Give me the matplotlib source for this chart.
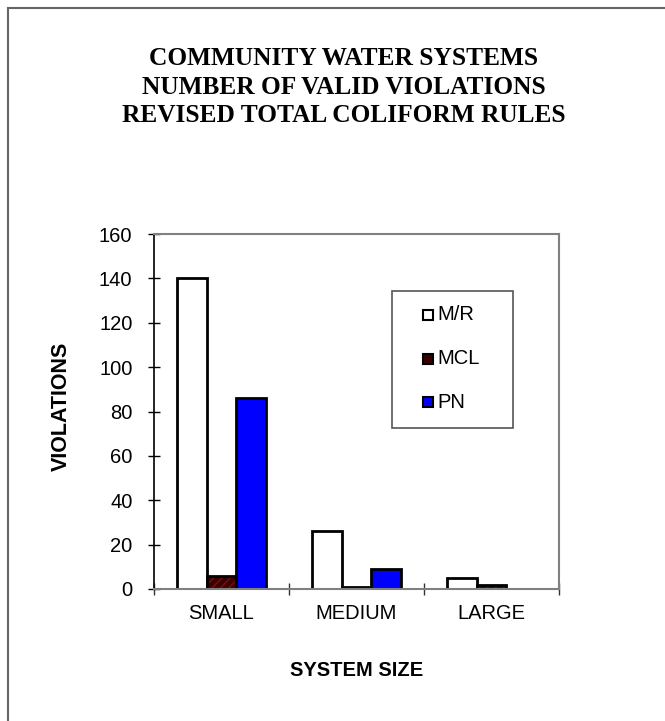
import matplotlib
matplotlib.use("Agg")
import matplotlib.pyplot as plt
import numpy as np
from matplotlib.patches import Rectangle
from matplotlib.lines import Line2D

categories = ["SMALL", "MEDIUM", "LARGE"]
series = ["M/R", "MCL", "PN"]
mr = [140, 26, 5]
mcl = [6, 1, 2]
pn = [86, 9, 0]
yticks = [0, 20, 40, 60, 80, 100, 120, 140, 160]
colors = ["white", "#3a0000", "#0000ff"]

W, H = 665, 721
fig = plt.figure(figsize=(W / 100, H / 100), dpi=100)


def fx(px):
    return px / W


def fy(py):
    return 1 - py / H


# outer frame (left & top visible)
fig.add_artist(Line2D([fx(8), fx(8)], [0, fy(8)], color="#666666", lw=1.5,
                      transform=fig.transFigure))
fig.add_artist(Line2D([fx(8), 1], [fy(8), fy(8)], color="#666666", lw=1.5,
                      transform=fig.transFigure))

ax_l, ax_r, ax_t, ax_b = 154, 559, 234, 589
ax = fig.add_axes([fx(ax_l), fy(ax_b), (ax_r - ax_l) / W, (ax_b - ax_t) / H])

n = len(categories)
x = np.arange(n)
bw = 0.222
offs = [-bw, 0, bw]

ax.bar(x + offs[0], mr, bw, color=colors[0], edgecolor="black", lw=2)
ax.bar(x + offs[1], mcl, bw, color=colors[1], edgecolor="#7a1010", lw=0, hatch="////")
ax.bar(x + offs[1], mcl, bw, color="none", edgecolor="black", lw=2)
ax.bar(x + offs[2], pn, bw, color=colors[2], edgecolor="black", lw=2)

ax.set_xlim(-0.5, n - 0.5)
ax.set_ylim(0, 160)
ax.set_yticks(yticks)
ax.set_yticklabels([str(v) for v in yticks], fontfamily="Liberation Sans", fontsize=14.5)
ax.set_xticks([-0.5, 0.5, 1.5, 2.5])
ax.set_xticklabels([])
ax.tick_params(axis="x", direction="inout", length=9, width=1, colors="#333333")
ax.tick_params(axis="y", direction="inout", length=9, width=1, colors="black", pad=11)
for i, c in enumerate(categories):
    ax.text(i, -11, c, ha="center", va="center", fontfamily="Liberation Sans", fontsize=14.5)

ax.spines["left"].set_color("black")
ax.spines["left"].set_linewidth(1.2)
for s in ["top", "right", "bottom"]:
    ax.spines[s].set_color("#808080")
    ax.spines[s].set_linewidth(1.5)

fig.text(fx((ax_l + ax_r) / 2), fy(670), "SYSTEM SIZE", ha="center", va="center",
         fontfamily="Liberation Sans", fontweight="bold", fontsize=14.5)
fig.text(fx(61), fy(406), "VIOLATIONS", ha="center", va="center", rotation=90,
         fontfamily="Liberation Sans", fontweight="bold", fontsize=15.5)

fig.text(fx(344), fy(87),
         "COMMUNITY WATER SYSTEMS\nNUMBER OF VALID VIOLATIONS\nREVISED TOTAL COLIFORM RULES",
         ha="center", va="center", fontfamily="Liberation Serif", fontweight="bold",
         fontsize=18.3, linespacing=1.3)

# legend (manual, in pixel coordinates)
lg_l, lg_t, lg_r, lg_b = 392, 291, 513, 428
fig.add_artist(Rectangle((fx(lg_l), fy(lg_b)), (lg_r - lg_l) / W, (lg_b - lg_t) / H,
                         transform=fig.transFigure, facecolor="white",
                         edgecolor="#555555", lw=1.2))
entry_y = [315, 359, 402]
for lab, col, yy in zip(series, colors, entry_y):
    fig.add_artist(Rectangle((fx(423), fy(yy + 5)), 10 / W, 10 / H,
                             transform=fig.transFigure, facecolor=col,
                             edgecolor="black", lw=1.5))
    fig.text(fx(437), fy(yy), lab, ha="left", va="center",
             fontfamily="Liberation Sans", fontsize=14.5)

fig.savefig("out.png", dpi=100, facecolor="white")
